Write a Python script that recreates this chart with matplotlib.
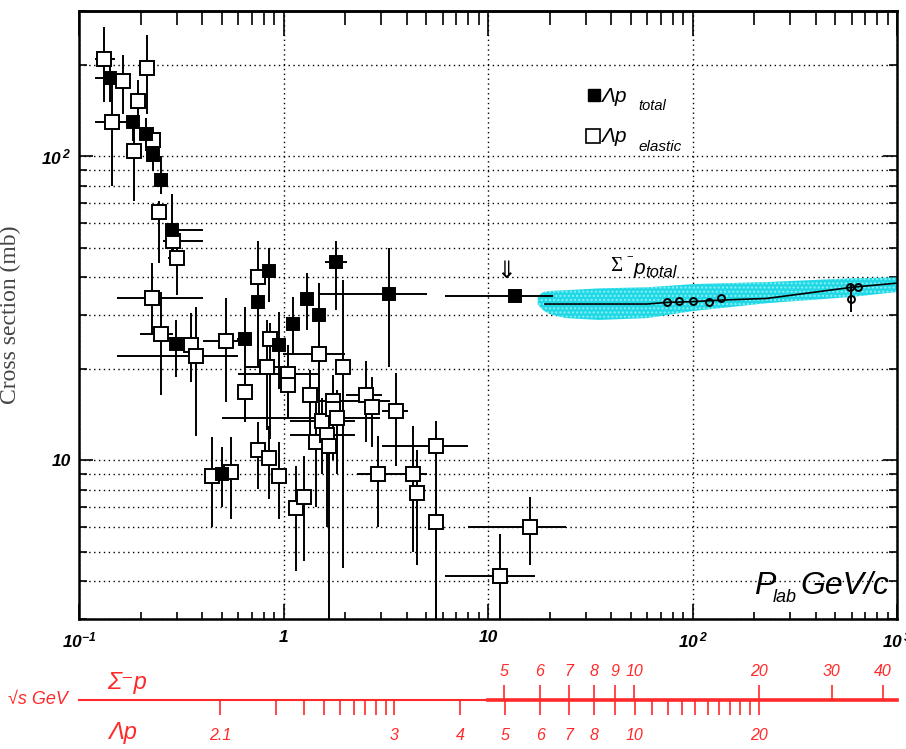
import numpy as np
import matplotlib
matplotlib.use("Agg")
import matplotlib.pyplot as plt
from matplotlib import ticker

plt.rcParams["font.family"] = ["Liberation Sans", "DejaVu Sans"]
plt.rcParams["mathtext.fontset"] = "custom"
plt.rcParams["mathtext.rm"] = "Liberation Sans:italic:bold"
plt.rcParams["mathtext.it"] = "Liberation Sans:italic:bold"
plt.rcParams["mathtext.bf"] = "Liberation Sans:italic:bold"

RED = "#ff2a2a"
W, H = 906, 749

# Lambda p total cross section: p_lab (GeV/c), sigma (mb) and error-bar extents
tot_p   = [0.142, 0.184, 0.213, 0.230, 0.252, 0.285, 0.298, 0.500, 0.647, 0.749, 0.848, 0.948, 1.11, 1.30, 1.49, 1.80, 3.27, 13.5]
tot_sig = [180, 129, 118, 101, 83.5, 57.3, 24.1, 9.0, 25.0, 33.1, 41.8, 23.9, 28.0, 33.8, 30.0, 44.7, 35.1, 34.6]
tot_plo = [0.120, 0.176, 0.205, 0.224, 0.246, 0.263, 0.290, 0.46, 0.59, 0.749, 0.848, 0.948, 1.06, 1.30, 1.49, 1.59, 1.47, 6.14]
tot_phi = [0.155, 0.193, 0.220, 0.236, 0.258, 0.404, 0.306, 0.55, 0.70, 0.749, 0.848, 0.948, 1.16, 1.30, 1.49, 2.04, 5.01, 20.7]
tot_slo = [151, 112, 104, 89, 75, 46, 18.8, 7.0, 13.3, 28.9, 33.1, 17.1, 22.5, 26.8, 16.7, 31.2, 20.3, 34.6]
tot_shi = [204, 135, 133, 112, 100, 75, 28.9, 11.0, 31.9, 37.6, 50.0, 30.7, 34.4, 41.1, 38.2, 52.7, 49.7, 34.6]

# Lambda p elastic cross section
el_p   = [0.133, 0.145, 0.164, 0.194, 0.215, 0.186, 0.230, 0.246, 0.288, 0.301,
          0.227, 0.252, 0.353, 0.373, 0.523, 0.749, 0.857, 0.828, 0.647, 1.05,
          1.05, 1.49, 1.95, 1.345, 2.52, 2.70, 3.54, 5.54, 2.89, 4.28,
          4.48, 5.54, 16.1, 11.5, 0.447, 0.553, 0.749, 0.848, 0.948, 1.148,
          1.256, 1.438, 1.54, 1.742, 1.742, 1.82, 1.627, 1.664]
el_sig = [209, 129, 177, 152, 195, 104, 113, 65.6, 52.7, 46.1,
          34.1, 26.0, 23.9, 22.0, 24.7, 39.9, 25.0, 20.3, 16.7, 19.2,
          17.7, 22.4, 20.3, 16.4, 16.4, 15.0, 14.5, 11.1, 9.0, 9.0,
          7.8, 6.27, 6.0, 4.15, 8.87, 9.14, 10.8, 10.15, 8.87, 6.97,
          7.57, 11.45, 13.4, 15.6, 14.7, 13.7, 12.07, 11.1]
el_plo = [0.120, 0.120, 0.164, 0.194, 0.215, 0.178, 0.230, 0.246, 0.257, 0.272,
          0.153, 0.199, 0.330, 0.153, 0.404, 0.749, 0.857, 0.647, 0.647, 0.598,
          1.05, 0.99, 1.95, 1.345, 2.02, 2.70, 3.02, 3.02, 2.28, 4.28,
          4.48, 5.25, 7.94, 6.14, 0.430, 0.540, 0.749, 0.848, 0.948, 1.148,
          1.256, 1.438, 1.074, 1.50, 1.742, 0.50, 1.074, 1.664]
el_phi = [0.150, 0.178, 0.164, 0.194, 0.215, 0.194, 0.230, 0.246, 0.404, 0.330,
          0.404, 0.288, 0.375, 0.598, 0.598, 0.749, 0.857, 0.981, 0.647, 1.50,
          1.05, 1.99, 1.95, 1.345, 3.02, 2.70, 4.05, 7.94, 5.01, 4.28,
          4.48, 5.85, 24.2, 16.9, 0.460, 0.570, 0.749, 0.848, 0.948, 1.148,
          1.256, 1.438, 2.23, 3.30, 1.742, 2.95, 2.23, 1.664]
el_slo = [151, 80, 138, 130, 138, 71, 96, 44.4, 45.4, 35.0,
          25.8, 16.4, 18.0, 12.0, 15.5, 20.3, 11.7, 12.6, 13.3, 13.9,
          13.9, 13.6, 4.4, 10.8, 11.45, 11.0, 9.56, 3.0, 6.04, 5.0,
          4.5, 3.0, 4.5, 3.0, 6.04, 6.41, 8.04, 7.46, 6.41, 4.3,
          4.65, 7.0, 9.0, 10.0, 10.0, 9.0, 6.0, 3.0]
el_shi = [266, 180, 215, 178, 250, 133, 125, 71.3, 56.9, 56.9,
          44.4, 35.7, 30.5, 31.9, 34.1, 52.7, 28.2, 28.9, 19.4, 23.9,
          23.9, 28.9, 39.0, 19.8, 21.1, 18.8, 19.4, 13.4, 12.0, 12.9,
          10.8, 8.0, 7.57, 5.73, 11.9, 11.9, 13.3, 12.9, 11.5, 9.56,
          10.3, 16.0, 16.0, 19.0, 18.0, 17.0, 15.0, 14.0]

# Sigma- p total cross section data, fit curve and band
sp_p   = [75, 86, 101, 121, 138, 590, 597, 646]
sp_sig = [33.1, 33.3, 33.3, 33.1, 34.1, 37.0, 33.8, 37.2]
sp_slo = [33.1, 33.3, 33.3, 33.1, 34.1, 37.0, 30.7, 37.2]
sp_shi = [33.1, 33.3, 33.3, 33.1, 34.1, 37.0, 37.6, 37.2]
fit_p   = [19, 60, 75, 100, 140, 230, 600, 1000]
fit_sig = [32.6, 32.6, 33.0, 33.2, 33.6, 34.0, 37.0, 38.2]
band_p  = [17.5, 18.5, 20, 24, 35, 60, 100, 230, 600, 1000]
band_lo = [32.5, 31.2, 30.2, 29.3, 28.9, 29.3, 30.9, 32.8, 34.4, 35.7]
band_hi = [34.5, 35.6, 36.0, 36.2, 36.7, 37.0, 37.9, 38.5, 39.6, 39.9]

# sqrt(s) scales
sig_ticks = [5, 6, 7, 8, 9, 10, 20, 30, 40]
lam_ticks = [2.1, 2.2, 2.3, 2.4, 2.5, 2.6, 2.7, 2.8, 2.9, 3, 4, 5, 6, 7, 8, 9,
             10, 11, 12, 13, 14, 15, 16, 17, 18, 19, 20]
lam_labeled = [2.1, 3, 4, 5, 6, 7, 8, 10, 20]

M_P, M_SIG, M_LAM = 0.93827, 1.19745, 1.11568


def sqrt_s_funcs(m):
    def fwd(p):
        p = np.asarray(p, dtype=float)
        return np.sqrt(m**2 + M_P**2 + 2 * M_P * np.sqrt(p**2 + m**2))

    def inv(rs):
        rs = np.asarray(rs, dtype=float)
        e = (rs**2 - m**2 - M_P**2) / (2 * M_P)
        e = np.clip(e, m * 1.0000001, None)
        return np.sqrt(e**2 - m**2)
    return fwd, inv


def draw_points(ax, p, s, plo, phi, slo, shi, marker, face, ms):
    p = np.array(p, dtype=float)
    s = np.array(s, dtype=float)
    xerr = [p - np.array(plo), np.array(phi) - p]
    yerr = [s - np.array(slo), np.array(shi) - s]
    ax.errorbar(p, s, xerr=xerr, yerr=yerr, fmt="none", ecolor="black",
                elinewidth=1.4, capsize=0, zorder=3)
    ax.plot(p, s, linestyle="none", marker=marker, ms=ms, mfc=face,
            mec="black", mew=1.4, zorder=4)


def ftext(px, py, s, **kw):
    fig.text(px / W, 1 - py / H, s, **kw)


fig = plt.figure(figsize=(W / 100, H / 100), dpi=100)
ax = fig.add_axes([79 / W, 1 - 619 / H, 818 / W, 608 / H])
ax.set_xscale("log")
ax.set_yscale("log")
ax.set_xlim(0.1, 1000)
ax.set_ylim(3, 300)

ax.fill_between(band_p, band_lo, band_hi, facecolor="#1ed8e6",
                edgecolor="#8eeef4", hatch="....", linewidth=0, zorder=2)
ax.plot(fit_p, fit_sig, color="black", lw=1.2, zorder=3)
draw_points(ax, sp_p, sp_sig, sp_p, sp_p, sp_slo, sp_shi, "o", "none", 5)
draw_points(ax, el_p, el_sig, el_plo, el_phi, el_slo, el_shi, "s", "white", 10)
draw_points(ax, tot_p, tot_sig, tot_plo, tot_phi, tot_slo, tot_shi, "s", "black", 8.5)

# grid and ticks
ax.set_axisbelow(True)
ax.grid(axis="x", which="major", color="black", lw=1, linestyle=(0, (1, 2.5)))
ax.grid(axis="y", which="both", color="black", lw=1, linestyle=(0, (1, 2.5)))
for sp in ax.spines.values():
    sp.set_linewidth(1.8)
ax.yaxis.set_minor_locator(ticker.LogLocator(subs=np.arange(2, 10)))
ax.yaxis.set_minor_formatter(ticker.NullFormatter())
ax.xaxis.set_minor_formatter(ticker.NullFormatter())
ax.tick_params(axis="x", which="major", direction="in", length=11, width=1.2, top=False, pad=8)
ax.tick_params(axis="x", which="minor", direction="in", length=5, width=1.2, top=False)
ax.tick_params(axis="y", which="major", direction="in", length=10, width=1.2, right=True, pad=6)
ax.tick_params(axis="y", which="minor", direction="in", length=6, width=1.2, right=True)
ax.set_xticks([0.1, 1, 10, 100, 1000], [r"$10^{-1}$", "1", "10", r"$10^{\,2}$", r"$10^{\,3}$"])
ax.set_yticks([10, 100], ["10", r"$10^{\,2}$"])
for lab in ax.get_xticklabels() + ax.get_yticklabels():
    lab.set_fontweight("bold")
    lab.set_fontstyle("italic")
    lab.set_fontsize(12.5)

top = ax.secondary_xaxis("top", functions=(lambda x: x, lambda x: x))
top.xaxis.set_minor_locator(ticker.LogLocator(subs=np.arange(2, 10)))
top.tick_params(which="major", direction="in", length=18, width=1.2, labeltop=False)
top.tick_params(which="minor", direction="in", length=10, width=1.2, labeltop=False)
top.xaxis.set_minor_formatter(ticker.NullFormatter())
top.spines["top"].set_linewidth(1.8)

ax.set_ylabel("Cross section (mb)", family="Liberation Serif", fontsize=17,
              color="#444444", labelpad=14)

# sqrt(s) axes below the plot
sig_f = sqrt_s_funcs(M_SIG)
lam_f = sqrt_s_funcs(M_LAM)
loc = (619 - 700) / 608
sec_s = ax.secondary_xaxis(loc, functions=sig_f)
sec_s.set_alignment("top")
sec_s.set_xticks(sig_ticks, [str(t) for t in sig_ticks])
sec_s.xaxis.set_minor_locator(ticker.NullLocator())
sec_s.tick_params(axis="x", colors=RED, length=11, width=1.2, labelsize=11.5, pad=4)
sec_s.spines["top"].set_color(RED)
sec_s.spines["top"].set_linewidth(2.6)
sec_s.spines["top"].set_bounds(float(sig_f[0](10)), float(sig_f[0](1000)))
for lab in sec_s.get_xticklabels():
    lab.set_fontstyle("italic")

sec_l = ax.secondary_xaxis(loc, functions=lam_f)
sec_l.set_alignment("bottom")
sec_l.set_xticks(lam_ticks, [("%g" % t if t in lam_labeled else "") for t in lam_ticks])
sec_l.xaxis.set_minor_locator(ticker.NullLocator())
sec_l.tick_params(axis="x", colors=RED, length=11, width=1.2, labelsize=11.5, pad=9)
sec_l.spines["bottom"].set_color(RED)
sec_l.spines["bottom"].set_linewidth(1.5)
for lab in sec_l.get_xticklabels():
    lab.set_fontstyle("italic")

ftext(38, 700, "√s GeV", color=RED, fontsize=13, style="italic", ha="center", va="center")
ftext(107, 683, "Σ⁻p", color=RED, fontsize=17, style="italic", ha="left", va="center")
ftext(108, 733, "Λp", color=RED, fontsize=17, style="italic", ha="left", va="center")

# legend
ax.plot([0.6296], [0.8618], "s", ms=9, mfc="black", mec="black", transform=ax.transAxes, clip_on=False)
ax.plot([0.628], [0.7944], "s", ms=10, mfc="white", mec="black", mew=1.2, transform=ax.transAxes, clip_on=False)
ftext(602, 96, "Λp", fontsize=15, style="italic", va="center")
ftext(638, 106, "total", fontsize=10.5, style="italic", va="center")
ftext(602, 137, "Λp", fontsize=15, style="italic", va="center")
ftext(638, 147, "elastic", fontsize=11, style="italic", va="center")

# Sigma- p label and arrow
ftext(610, 266, "Σ", family=["Liberation Serif", "DejaVu Serif"], fontsize=15, va="center")
ftext(626, 256, "−", fontsize=8, va="center")
ftext(634, 268, "p", fontsize=15, style="italic", va="center")
ftext(645, 273, "total", fontsize=12, style="italic", va="center")
ftext(506, 271, "⇓", family="DejaVu Sans", fontsize=17, ha="center", va="center")

# p_lab axis title
ftext(754, 586, "P", fontsize=23, style="italic", va="center")
ftext(773, 597, "lab", fontsize=13, style="italic", va="center")
ftext(800, 586, "GeV/c", fontsize=23, style="italic", va="center")

fig.savefig("out.png", dpi=100)
